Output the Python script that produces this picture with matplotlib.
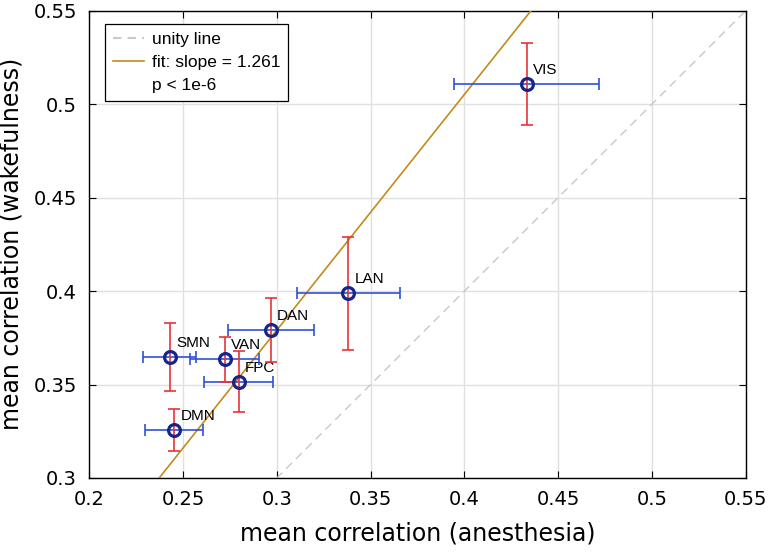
import numpy as np
import matplotlib
matplotlib.use("Agg")
import matplotlib.pyplot as plt
from matplotlib.lines import Line2D

plt.rcParams['font.family'] = ['Liberation Sans', 'DejaVu Sans']

# Datos
redes = ['VIS', 'LAN', 'DAN', 'SMN', 'VAN', 'FPC', 'DMN']
anestesia = [0.4332, 0.3381, 0.2967, 0.2430, 0.2722, 0.2797, 0.2452]
vigilia = [0.5107, 0.3988, 0.3792, 0.3647, 0.3636, 0.3516, 0.3257]
err_anestesia = [0.0386, 0.0275, 0.0229, 0.0141, 0.0184, 0.0183, 0.0155]
err_vigilia = [0.0219, 0.0303, 0.0172, 0.0180, 0.0120, 0.0162, 0.0112]

pendiente = 1.261
intercepto = 0.0008

fig = plt.figure(figsize=(7.73, 5.56), dpi=100)
ax = fig.add_axes([0.1155, 0.1403, 0.8492, 0.8405])

# Línea unidad y ajuste
lim = np.array([0.2, 0.55])
ax.plot(lim, lim, '--', color='#c8c8c8', lw=1.0, dashes=(6, 4), zorder=2)
ax.plot(lim, pendiente * lim + intercepto, '-', color='#c48a1c', lw=1.2, zorder=3)

# Barras de error
ax.errorbar(anestesia, vigilia, xerr=err_anestesia, fmt='none', ecolor='#3050d8',
            elinewidth=1.2, capsize=4, capthick=1.2, zorder=4)
ax.errorbar(anestesia, vigilia, yerr=err_vigilia, fmt='none', ecolor='#e8343a',
            elinewidth=1.2, capsize=4, capthick=1.2, zorder=4)
ax.plot(anestesia, vigilia, 'o', ms=8.5, mfc='none', mec='#15258c', mew=2.3, zorder=5)

for nombre, x, y in zip(redes, anestesia, vigilia):
    ax.annotate(nombre, (x, y), xytext=(4.5, 10), textcoords='offset points',
                fontsize=11, ha='left', va='center')

ax.set_xlim(0.2, 0.55)
ax.set_ylim(0.3, 0.55)
ax.set_xticks(np.arange(0.2, 0.551, 0.05))
ax.set_yticks(np.arange(0.3, 0.551, 0.05))
ax.set_xticklabels(['0.2', '0.25', '0.3', '0.35', '0.4', '0.45', '0.5', '0.55'])
ax.set_yticklabels(['0.3', '0.35', '0.4', '0.45', '0.5', '0.55'])
ax.tick_params(direction='in', top=True, right=True, length=5, width=0.8)
ax.tick_params(axis='x', pad=9)
ax.tick_params(axis='y', pad=9)
for lab in ax.get_xticklabels() + ax.get_yticklabels():
    lab.set_family('DejaVu Sans')
    lab.set_fontsize(14)
ax.grid(True, color='#e0e0e0', lw=1.0, zorder=0)
ax.set_axisbelow(True)
for s in ax.spines.values():
    s.set_linewidth(1.0)
ax.set_xlabel('mean correlation (anesthesia)', fontsize=17, family='DejaVu Sans', labelpad=9)
ax.set_ylabel('mean correlation (wakefulness)', fontsize=17, family='DejaVu Sans', labelpad=7)

handles = [Line2D([], [], ls='--', color='#c8c8c8', dashes=(4, 3)),
           Line2D([], [], color='#c48a1c', lw=1.2),
           Line2D([], [], color='none')]
leg = ax.legend(handles, ['unity line', 'fit: slope = 1.261', 'p < 1e-6'],
                loc='upper left', bbox_to_anchor=(0.024, 0.9715), borderaxespad=0,
                fontsize=12.5, frameon=True, fancybox=False, framealpha=1,
                edgecolor='black', handlelength=1.8, handletextpad=0.45,
                borderpad=0.45, labelspacing=0.45)
leg.get_frame().set_linewidth(0.9)

fig.savefig('out.png', dpi=100)
